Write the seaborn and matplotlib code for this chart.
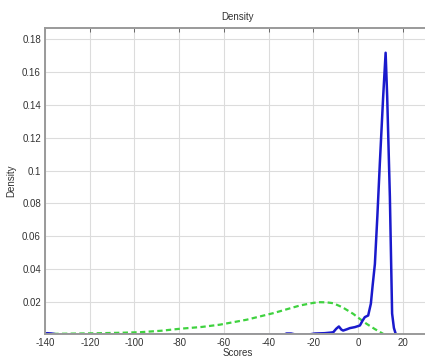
import matplotlib
matplotlib.use("Agg")
import matplotlib.pyplot as plt
import seaborn as sns
import pandas as pd

# blue (solid) density curve
blue_x = [-140, -139, -137, -135, -134, -33, -32, -30, -28, -22, -19.3, -15, -12, -11.1,
          -9.8, -8.6, -7.5, -6.7, -5, -3.7, -1.45, 0.8, 2, 3.0, 4.5, 5.7, 6.5, 7.5,
          8.6, 9.7, 11.2, 12.3, 13.0, 14.2, 15.2, 16.0, 16.9]
blue_y = [0.0006, 0.0008, 0.0006, 0.0001, 0.0, 0.0, 0.0006, 0.0006, 0.0, 0.0, 0.0006,
          0.0008, 0.0012, 0.0014, 0.0035, 0.0049, 0.0030, 0.0024, 0.0032, 0.0039,
          0.0045, 0.0055, 0.0085, 0.0106, 0.0116, 0.0188, 0.030, 0.043, 0.072, 0.104,
          0.145, 0.1718, 0.145, 0.084, 0.0128, 0.004, 0.0]

# green (dashed) density curve
green_x = [-136.3, -125, -115.4, -105, -97.5, -88, -79.7, -70, -61.8, -49.9, -38, -26,
           -20, -17.1, -14, -11.2, -7, -2.2, 0.8, 3.8, 7.5, 11.2]
green_y = [0.0004, 0.0006, 0.0008, 0.0011, 0.0014, 0.0023, 0.0035, 0.0046, 0.006, 0.009,
           0.013, 0.0177, 0.0193, 0.0197, 0.0196, 0.0191, 0.0166, 0.0126, 0.0095, 0.0065,
           0.0033, 0.0004]

x_ticks = [-140, -120, -100, -80, -60, -40, -20, 0, 20]
y_ticks = [0.02, 0.04, 0.06, 0.08, 0.1, 0.12, 0.14, 0.16, 0.18]
y_labels = ["0.02", "0.04", "0.06", "0.08", "0.1", "0.12", "0.14", "0.16", "0.18"]

sns.set_style("white")
plt.rcParams["font.family"] = ["Liberation Sans", "DejaVu Sans"]

blue = pd.DataFrame({"Scores": blue_x, "Density": blue_y})
green = pd.DataFrame({"Scores": green_x, "Density": green_y})

fig = plt.figure(figsize=(4.25, 3.59), dpi=100)
ax = fig.add_axes([0.106, 0.0696, 0.905, 0.852])

sns.lineplot(data=green, x="Scores", y="Density", color="#3fd23f", lw=1.6,
             linestyle=(0, (2.4, 1.5)), ax=ax, sort=False)
sns.lineplot(data=blue, x="Scores", y="Density", color="#1a1acc", lw=1.8, ax=ax, sort=False)

ax.set_xlim(-140, 32)
ax.set_ylim(0.0003, 0.1868)
ax.set_xticks(x_ticks)
ax.set_xticklabels([str(t) for t in x_ticks])
ax.set_yticks(y_ticks)
ax.set_yticklabels(y_labels)
ax.grid(True, color="#dcdcdc", lw=0.8)
ax.tick_params(direction="in", length=3, width=0.6, labelsize=7, colors="#555555",
               top=True, right=True, labelcolor="#333333", pad=3)
for s in ax.spines.values():
    s.set_color("#9a9a9a")
    s.set_linewidth(1.4)
    s.set_zorder(3)

ax.set_xlabel("Scores", fontsize=7, color="#333333", labelpad=0)
ax.set_ylabel("Density", fontsize=7, color="#333333", labelpad=4)
ax.set_title("Density", fontsize=7, color="#333333", pad=6)

fig.savefig("out.png", dpi=100)
